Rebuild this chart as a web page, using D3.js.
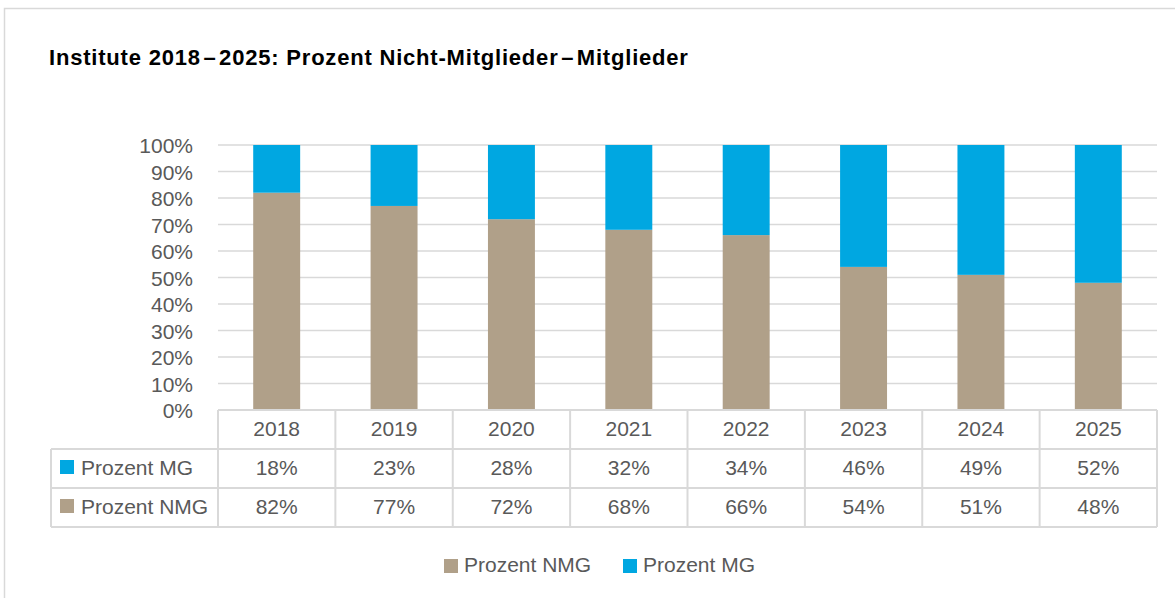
<!DOCTYPE html>
<html>
<head>
<meta charset="utf-8">
<script src="https://cdnjs.cloudflare.com/ajax/libs/d3/7.8.5/d3.min.js"></script>
<style>
  body { margin: 0; background: #fff; }
  svg text { font-family: "Liberation Sans", Arial, sans-serif; }
</style>
</head>
<body>
<div id="chart"></div>
<script>
    'use strict';

    var years = ['2018', '2019', '2020', '2021', '2022', '2023', '2024', '2025'];
    var prozentMG = [18, 23, 28, 32, 34, 46, 49, 52];
    var prozentNMG = [82, 77, 72, 68, 66, 54, 51, 48];
    var yTicks = [0, 10, 20, 30, 40, 50, 60, 70, 80, 90, 100];

    var width = 1175,
        height = 598,
        plot = { left: 218, right: 1157, top: 145, bottom: 410 },
        rowH = 39,
        tableLeft = 51,
        fontSize = '21px',
        textColor = '#595959',
        gridColor = '#d9d9d9',
        colorMG = '#00a7e1',
        colorNMG = '#b0a089';

    var series = [
        { name: 'Prozent MG', values: prozentMG, color: colorMG },
        { name: 'Prozent NMG', values: prozentNMG, color: colorNMG }
    ];

    var svg = d3.select('#chart').append('svg')
        .attr('width', width)
        .attr('height', height);

    // chart frame
    svg.append('rect')
        .attr('x', 4.5).attr('y', 8.5)
        .attr('width', width + 10).attr('height', height)
        .attr('fill', 'none')
        .attr('stroke', '#d9d9d9')
        .attr('stroke-width', 1.5);

    svg.append('text')
        .attr('x', 49).attr('y', 65)
        .style('font-size', '22px')
        .style('font-weight', 'bold')
        .style('letter-spacing', '0.8px')
        .attr('fill', '#000')
        .text('Institute 2018\u200a\u2013\u200a2025: Prozent Nicht-Mitglieder\u200a\u2013\u200aMitglieder');

    var x = d3.scaleBand()
        .domain(years)
        .range([plot.left, plot.right])
        .paddingInner(0)
        .paddingOuter(0);

    var y = d3.scaleLinear()
        .domain([0, 100])
        .range([plot.bottom, plot.top]);

    // gridlines
    svg.append('g')
        .selectAll('line')
        .data(yTicks.filter(function (t) { return t > 0; }))
        .join('line')
        .attr('x1', plot.left).attr('x2', plot.right)
        .attr('y1', function (d) { return y(d); })
        .attr('y2', function (d) { return y(d); })
        .attr('stroke', gridColor)
        .attr('stroke-width', 1.5);

    // y axis labels
    var yAxis = d3.axisLeft(y)
        .tickValues(yTicks)
        .tickFormat(function (d) { return d + '%'; })
        .tickSize(0)
        .tickPadding(0);

    var yg = svg.append('g')
        .attr('transform', 'translate(' + (plot.left - 25) + ',0)')
        .call(yAxis);
    yg.select('.domain').remove();
    yg.selectAll('text')
        .attr('dy', '0.36em')
        .style('font-size', fontSize)
        .attr('fill', textColor);

    // stacked bars
    var stackData = years.map(function (yr, i) {
        return { year: yr, NMG: prozentNMG[i], MG: prozentMG[i] };
    });
    var stacked = d3.stack().keys(['NMG', 'MG'])(stackData);
    var colors = { NMG: colorNMG, MG: colorMG };
    var barW = x.bandwidth() * 0.4;

    svg.append('g')
        .selectAll('g')
        .data(stacked)
        .join('g')
        .attr('fill', function (s) { return colors[s.key]; })
        .selectAll('rect')
        .data(function (s) { return s; })
        .join('rect')
        .attr('x', function (d) { return x(d.data.year) + (x.bandwidth() - barW) / 2; })
        .attr('width', barW)
        .attr('y', function (d) { return y(d[1]); })
        .attr('height', function (d) { return y(d[0]) - y(d[1]); });

    // data table
    var table = svg.append('g')
        .attr('fill', 'none')
        .attr('stroke', gridColor)
        .attr('stroke-width', 2);

    var tableBottom = plot.bottom + rowH * 3;

    // horizontal lines
    table.append('line')
        .attr('x1', plot.left).attr('x2', plot.right)
        .attr('y1', plot.bottom).attr('y2', plot.bottom);
    [1, 2, 3].forEach(function (r) {
        table.append('line')
            .attr('x1', tableLeft).attr('x2', plot.right)
            .attr('y1', plot.bottom + rowH * r).attr('y2', plot.bottom + rowH * r);
    });

    // vertical lines
    table.append('line')
        .attr('x1', tableLeft).attr('x2', tableLeft)
        .attr('y1', plot.bottom + rowH).attr('y2', tableBottom);
    years.forEach(function (yr) {
        table.append('line')
            .attr('x1', x(yr)).attr('x2', x(yr))
            .attr('y1', plot.bottom).attr('y2', tableBottom);
    });
    table.append('line')
        .attr('x1', plot.right).attr('x2', plot.right)
        .attr('y1', plot.bottom).attr('y2', tableBottom);

    // header years
    svg.append('g')
        .selectAll('text')
        .data(years)
        .join('text')
        .attr('x', function (d) { return x(d) + x.bandwidth() / 2; })
        .attr('y', plot.bottom + 26)
        .attr('text-anchor', 'middle')
        .style('font-size', fontSize)
        .attr('fill', textColor)
        .text(function (d) { return d; });

    // table rows
    series.forEach(function (s, r) {
        var top = plot.bottom + rowH * (r + 1);
        var row = svg.append('g');

        row.append('rect')
            .attr('x', 60).attr('y', top + 11)
            .attr('width', 14).attr('height', 14)
            .attr('fill', s.color);

        row.append('text')
            .attr('x', 81).attr('y', top + 26)
            .style('font-size', fontSize)
            .attr('fill', textColor)
            .text(s.name);

        row.selectAll('text.val')
            .data(s.values)
            .join('text')
            .attr('class', 'val')
            .attr('x', function (d, i) { return x(years[i]) + x.bandwidth() / 2; })
            .attr('y', top + 26)
            .attr('text-anchor', 'middle')
            .style('font-size', fontSize)
            .attr('fill', textColor)
            .text(function (d) { return d + '%'; });
    });

    // legend
    var legendItems = [
        { name: 'Prozent NMG', color: colorNMG, x: 444 },
        { name: 'Prozent MG', color: colorMG, x: 623 }
    ];
    var legend = svg.append('g')
        .selectAll('g')
        .data(legendItems)
        .join('g')
        .attr('transform', function (d) { return 'translate(' + d.x + ',572)'; });

    legend.append('rect')
        .attr('x', 0).attr('y', -13)
        .attr('width', 14).attr('height', 14)
        .attr('fill', function (d) { return d.color; });

    legend.append('text')
        .attr('x', 20).attr('y', 0)
        .style('font-size', fontSize)
        .attr('fill', textColor)
        .text(function (d) { return d.name; });
</script>
</body>
</html>
